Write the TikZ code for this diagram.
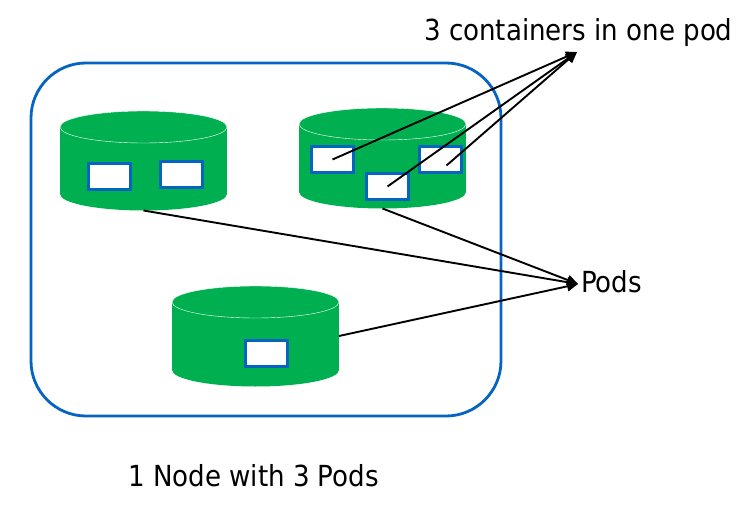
\documentclass[tikz,border=0pt]{standalone}
\usepackage{fontspec}
\setmainfont{DejaVu Sans Condensed}
\usetikzlibrary{arrows.meta}
\definecolor{podgreen}{HTML}{00B050}
\definecolor{nodeblue}{HTML}{0563C1}

\begin{document}
\begin{tikzpicture}[x=1pt, y=-1pt,
    ctr/.style={rectangle,draw=nodeblue,line width=3pt,fill=white,minimum width=42pt,minimum height=26pt,inner sep=0pt},
    lbl/.style={font=\fontsize{29}{34}\selectfont,inner sep=0pt,anchor=base west},
    conn/.style={->,>={Triangle[length=11pt,width=10pt]},line width=1.9pt}]
    \useasboundingbox (0,0) rectangle (744,516);
    % the node frame
    \draw[nodeblue,line width=2.8pt,rounded corners=55pt] (31,63) rectangle (501,416);
    % pods as cylinders
    \foreach \n/\cx/\yt/\yb in {podA/143.5/127/194,podB/382.5/124/192,podC/255.5/302/370}{
        \fill[podgreen] (\cx-83.5,\yt) rectangle (\cx+83.5,\yb);
        \fill[podgreen] (\cx,\yb) ellipse [x radius=83.5,y radius=16.5];
        \filldraw[fill=podgreen,draw=white,thin] (\cx,\yt) ellipse [x radius=83.5,y radius=16];
        \coordinate (\n-s) at (\cx,\yb+16.5);
        \coordinate (\n-e) at (\cx+83.5,{(\yt+\yb)/2});
    }
    % containers
    \node[ctr] (cA1) at (109.5,176.5) {};
    \node[ctr] (cA2) at (181,174.5) {};
    \node[ctr] (cB1) at (332.5,159.5) {};
    \node[ctr] (cB2) at (387.5,186.5) {};
    \node[ctr] (cB3) at (440.5,159.5) {};
    \node[ctr] (cC1) at (266,353) {};
    % labels
    \node[lbl] (ctrlabel) at (424,41) {3 containers in one pod};
    \node[lbl] (podlabel) at (581,292) {Pods};
    \node[lbl] (nodelabel) at (128,486) {1 Node with 3 Pods};
    \coordinate (ctrtip) at (577,52);
    \coordinate (podtip) at (578,284);
    % arrows
    \draw[conn] (cB1.center) -- (ctrtip);
    \draw[conn] (cB2.center) -- (ctrtip);
    \draw[conn] ([shift={(6,6)}]cB3.center) -- (ctrtip);
    \draw[conn] (podA-s) -- (podtip);
    \draw[conn] (podB-s) -- (podtip);
    \draw[conn] (podC-e) -- (podtip);
\end{tikzpicture}
\end{document}
